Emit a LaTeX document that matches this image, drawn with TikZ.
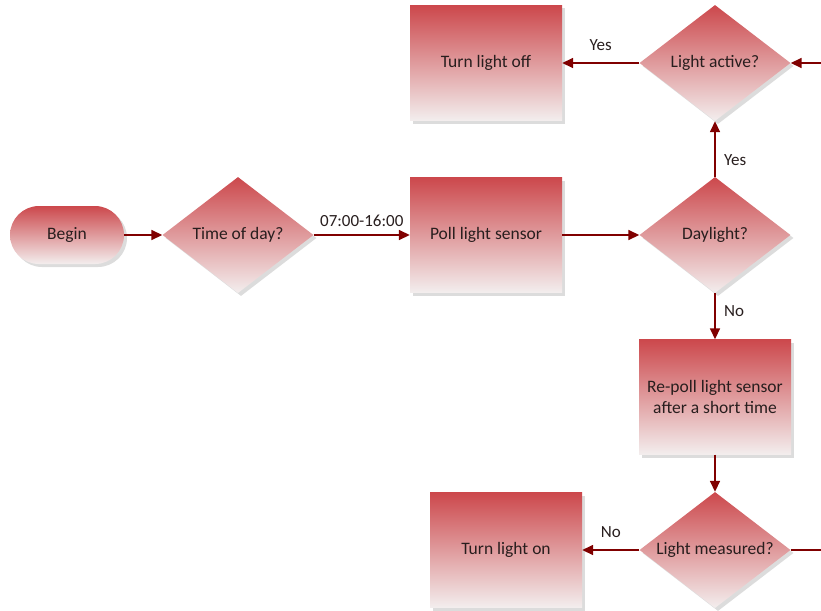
\documentclass[tikz,border=0pt]{standalone}
\usepackage{fontspec}
\setmainfont{Carlito}
\usetikzlibrary{shapes.geometric,shapes.misc,arrows.meta,shadows}
\definecolor{fltop}{RGB}{204,72,76}
\definecolor{flbot}{RGB}{243,238,238}
\definecolor{flline}{RGB}{128,0,0}
\definecolor{fltext}{RGB}{40,30,30}
\tikzset{
  fill grad/.style={top color=fltop, bottom color=flbot, draw=none,
    drop shadow={shadow xshift=3pt, shadow yshift=-3pt, fill=black!30, opacity=0.45}},
  procbox/.style={fill grad, rectangle, minimum width=152pt, minimum height=115pt,
    align=center, inner sep=0pt},
  decbox/.style={fill grad, diamond, minimum width=151pt, minimum height=116pt,
    inner sep=0pt, aspect=1.3},
  termbox/.style={fill grad, rounded rectangle, minimum width=114pt, minimum height=58pt,
    inner sep=0pt},
  flow/.style={draw=flline, line width=1.6pt, -{Triangle[length=11pt,width=10pt]}},
  plainflow/.style={draw=flline, line width=1.6pt},
  lbl/.style={text=fltext, font=\fontsize{17pt}{20pt}\selectfont},
}
\begin{document}
\begin{tikzpicture}[x=1pt,y=-1pt, every node/.append style={text=fltext, font=\fontsize{17.5pt}{21pt}\selectfont}]
\useasboundingbox (0,0) rectangle (821,610);

% nodes
\node[termbox] (begin) at (67,235) {Begin};
\node[decbox]  (tod)   at (238,235) {Time of day?};
\node[procbox] (poll)  at (486,235) {Poll light sensor};
\node[decbox]  (day)   at (715,235) {Daylight?};
\node[decbox]  (act)   at (715,63) {Light active?};
\node[procbox] (off)   at (486,63) {Turn light off};
\node[procbox] (repoll) at (715,397) {Re-poll light sensor\\after a short time};
\node[decbox]  (meas)  at (715,550) {Light measured?};
\node[procbox] (on)    at (506,550) {Turn light on};

\coordinate (inR)  at (821,63);
\coordinate (outR) at (821,550);

% connectors
\draw[flow] (begin.east) -- (tod.west);
\draw[flow] (tod.east) -- node[lbl, above=4pt] {07:00-16:00} (poll.west);
\draw[flow] (poll.east) -- (day.west);
\draw[flow] (day.north) -- node[lbl, right=5pt, pos=0.3] {Yes} (act.south);
\draw[flow] (act.west) -- node[lbl, above=8pt] {Yes} (off.east);
\draw[flow] (inR) -- (act.east);
\draw[flow] (day.south) -- node[lbl, right=5pt, pos=0.38] {No} (repoll.north);
\draw[flow] (repoll.south) -- (meas.north);
\draw[flow] (meas.west) -- node[lbl, above=8pt] {No} (on.east);
\draw[plainflow] (meas.east) -- (outR);
\end{tikzpicture}
\end{document}
